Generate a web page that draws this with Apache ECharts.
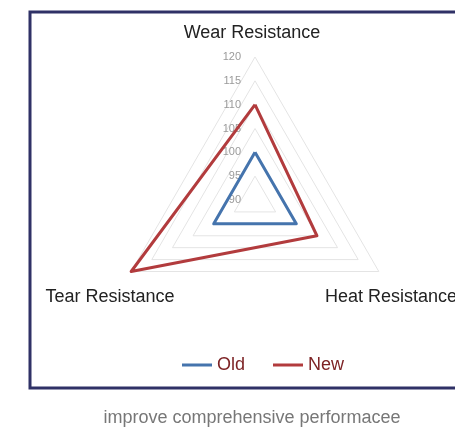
<!DOCTYPE html>
<html>
<head>
<meta charset="utf-8">
<script src="https://cdn.jsdelivr.net/npm/echarts@6/dist/echarts.min.js"></script>
<style>
  html, body { margin: 0; padding: 0; background: #fff; }
  #chart { width: 455px; height: 430px; }
</style>
</head>
<body>
<div id="chart"></div>
<script>
const indicatorNames = ['Wear Resistance', 'Tear Resistance', 'Heat Resistance'];
const oldValues = [100, 100, 100];
const newValues = [110, 120, 105];
const seriesNames = ['Old', 'New'];
const axisMin = 90;
const axisMax = 120;
const caption = 'improve comprehensive performacee';

const chart = echarts.init(document.getElementById('chart'));
const font = 'Liberation Sans, Arial, sans-serif';

// Only the top axis carries tick labels, like the original
const indicators = indicatorNames.map((name, i) => ({
  name: name,
  min: axisMin,
  max: axisMax,
  axisLabel: { show: i === 0 }
}));

chart.setOption({
  animation: false,
  color: ['#4574ad', '#b23b3d'],
  radar: {
    center: [255, 200],
    radius: 143,
    startAngle: 90,
    shape: 'polygon',
    splitNumber: 6,
    indicator: indicators,
    axisName: { show: false },
    axisLine: { show: false },
    axisTick: { show: false },
    splitArea: { show: false },
    splitLine: { lineStyle: { color: '#e4e4e4', width: 1 } },
    axisLabel: {
      show: false,
      color: '#9a9a9a',
      fontSize: 11,
      fontFamily: font,
      margin: 14
    }
  },
  legend: {
    data: seriesNames,
    left: 177,
    top: 351,
    itemWidth: 30,
    itemHeight: 3,
    itemGap: 28,
    icon: 'rect',
    textStyle: { color: '#7d2325', fontSize: 18, fontFamily: font }
  },
  graphic: [
    {
      type: 'rect',
      shape: { x: 30, y: 12, width: 460, height: 376 },
      style: { fill: 'none', stroke: '#2f3166', lineWidth: 3 }
    },
    {
      type: 'text', x: 252, y: 33,
      style: { text: indicatorNames[0], fill: '#222', font: '18px ' + font, align: 'center', verticalAlign: 'middle' }
    },
    {
      type: 'text', x: 110, y: 297,
      style: { text: indicatorNames[1], fill: '#222', font: '18px ' + font, align: 'center', verticalAlign: 'middle' }
    },
    {
      type: 'text', x: 325, y: 297,
      style: { text: indicatorNames[2], fill: '#222', font: '18px ' + font, align: 'left', verticalAlign: 'middle' }
    },
    {
      type: 'text', x: 252, y: 418,
      style: { text: caption, fill: '#777', font: '18px ' + font, align: 'center', verticalAlign: 'middle' }
    }
  ],
  series: [{
    type: 'radar',
    symbol: 'none',
    lineStyle: { width: 3 },
    data: [
      { name: seriesNames[0], value: oldValues },
      { name: seriesNames[1], value: newValues }
    ]
  }]
});
</script>
</body>
</html>
